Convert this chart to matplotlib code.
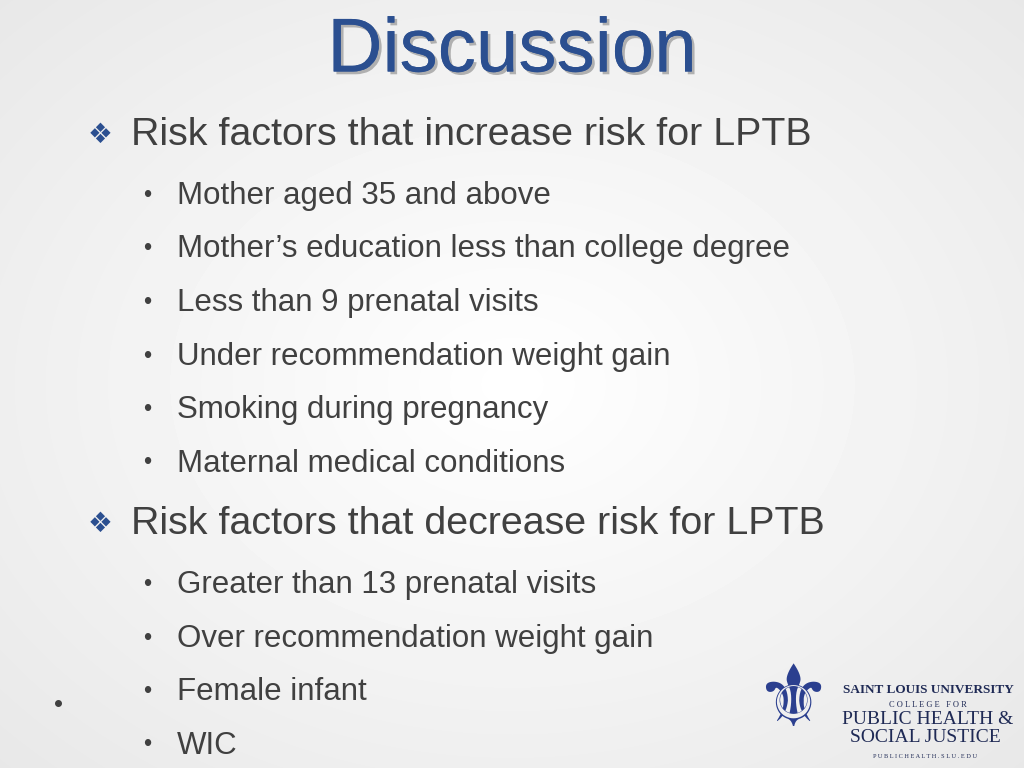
import numpy as np
import matplotlib.pyplot as plt
import matplotlib.patheffects as pe

title = "Discussion"
heading_up = "Risk factors that increase risk for LPTB"
items_up = ["Mother aged 35 and above",
            "Mother\u2019s education less than college degree",
            "Less than 9 prenatal visits",
            "Under recommendation weight gain",
            "Smoking during pregnancy",
            "Maternal medical conditions"]
heading_down = "Risk factors that decrease risk for LPTB"
items_down = ["Greater than 13 prenatal visits",
              "Over recommendation weight gain",
              "Female infant",
              "WIC"]

W, H = 1024, 768
fig = plt.figure(figsize=(W / 100, H / 100), dpi=100)
ax = fig.add_axes([0, 0, 1, 1])
ax.set_xlim(0, W)
ax.set_ylim(H, 0)
ax.axis('off')

# soft radial background
yy, xx = np.mgrid[0:H, 0:W]
r = np.hypot((xx - W / 2) / W, (yy - H / 2) / H)
bg = 1.0 - 0.09 * np.clip(r / 0.7, 0, 1)
ax.imshow(bg, cmap='gray', vmin=0, vmax=1, extent=[0, W, H, 0], zorder=0)

font = ['Liberation Sans', 'DejaVu Sans']

# title with shadow
ax.text(512, 52, title, fontsize=55, color='#2b4f90', ha='center', va='center', family=font,
        path_effects=[pe.withSimplePatchShadow(offset=(2, -2), shadow_rgbFace='#a0a0a0', alpha=0.8),
                      pe.Normal()])

def section(y, heading, items):
    ax.text(88, y, "\u2756", fontsize=20, color='#2b4f90', va='center', family=['DejaVu Sans'])
    ax.text(131, y, heading, fontsize=28.4, color='#404040', va='center', family=font)
    for i, item in enumerate(items):
        yi = y + 61 + i * 53.5
        ax.text(143, yi, "\u2022", fontsize=17, color='#404040', va='center', family=font)
        ax.text(177, yi, item, fontsize=22.5, color='#404040', va='center', family=font)

section(135, heading_up, items_up)
section(524, heading_down, items_down)

ax.plot([58], [703], 'o', color='#404040', markersize=4)

# logo
ax.text(793, 703, "\u269c", fontsize=62, color='#2b3f8f', ha='center', va='center', family=['DejaVu Sans'])
navy = '#1f2a55'
serif = ['Liberation Serif', 'DejaVu Serif']
ax.text(928, 690, "SAINT LOUIS UNIVERSITY", fontsize=9.5, color=navy, ha='center', va='center', family=serif, weight='bold')
ax.text(928, 705, "C O L L E G E   F O R", fontsize=6, color=navy, ha='center', va='center', family=serif)
ax.text(928, 720, "PUBLIC HEALTH &", fontsize=14, color=navy, ha='center', va='center', family=serif)
ax.text(925, 738, "SOCIAL JUSTICE", fontsize=14, color=navy, ha='center', va='center', family=serif)
ax.text(925, 756, "P U B L I C H E A L T H . S L U . E D U", fontsize=4.5, color=navy, ha='center', va='center', family=serif)

fig.savefig('out.png', dpi=100)
